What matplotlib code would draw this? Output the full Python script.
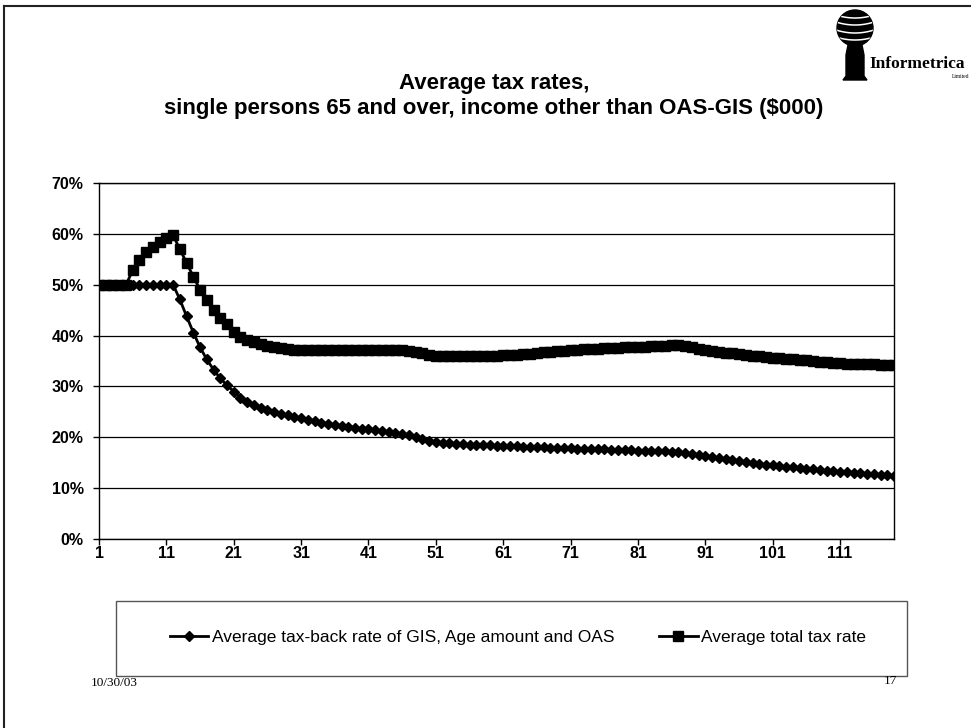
import numpy as np
import matplotlib
matplotlib.use('Agg')
import matplotlib.pyplot as plt
from matplotlib.patches import Circle, Rectangle, Polygon
from matplotlib.ticker import FuncFormatter

plt.rcParams['font.family'] = ['Liberation Sans', 'DejaVu Sans']

# income other than OAS-GIS ($000)
income = list(range(1, 120))

# Average tax-back rate of GIS, Age amount and OAS (%)
taxback = [
    50.0, 50.0, 50.0, 50.0, 50.0, 50.0, 50.0, 50.0, 50.0, 50.0,
    50.0, 50.0, 47.1, 43.8, 40.6, 37.7, 35.3, 33.3, 31.6, 30.2,
    29.0, 27.8, 26.9, 26.3, 25.8, 25.3, 24.9, 24.6, 24.3, 24.0,
    23.7, 23.4, 23.2, 22.9, 22.7, 22.5, 22.3, 22.1, 21.9, 21.7,
    21.6, 21.4, 21.2, 21.1, 20.9, 20.7, 20.4, 20.0, 19.6, 19.2,
    19.0, 18.9, 18.8, 18.7, 18.6, 18.5, 18.5, 18.4, 18.4, 18.3,
    18.3, 18.25, 18.2, 18.15, 18.1, 18.05, 18.0, 17.95, 17.9, 17.85,
    17.8, 17.75, 17.7, 17.65, 17.6, 17.6, 17.55, 17.5, 17.5, 17.45,
    17.4, 17.4, 17.35, 17.3, 17.3, 17.2, 17.1, 16.9, 16.7, 16.5,
    16.3, 16.1, 15.9, 15.7, 15.5, 15.3, 15.2, 15.0, 14.8, 14.6,
    14.5, 14.3, 14.2, 14.1, 13.9, 13.8, 13.7, 13.6, 13.4, 13.3,
    13.2, 13.1, 13.0, 12.9, 12.8, 12.7, 12.6, 12.5, 12.4,
]

# Average total tax rate (%)
total = [
    50.0, 50.0, 50.0, 50.0, 50.0, 52.8, 54.8, 56.4, 57.5, 58.4,
    59.1, 59.7, 57.0, 54.3, 51.6, 49.0, 46.9, 45.0, 43.4, 42.2,
    40.8, 39.7, 39.1, 38.7, 38.3, 38.0, 37.8, 37.5, 37.3, 37.2,
    37.1, 37.1, 37.1, 37.1, 37.1, 37.1, 37.1, 37.1, 37.1, 37.1,
    37.1, 37.1, 37.1, 37.1, 37.1, 37.1, 37.0, 36.8, 36.5, 36.2,
    36.0, 36.0, 36.0, 36.0, 36.0, 36.0, 36.0, 36.0, 36.0, 36.05,
    36.1, 36.1, 36.2, 36.3, 36.4, 36.6, 36.7, 36.8, 36.9, 37.0,
    37.1, 37.2, 37.3, 37.35, 37.4, 37.5, 37.55, 37.6, 37.7, 37.75,
    37.8, 37.85, 37.9, 38.0, 38.0, 38.1, 38.1, 37.9, 37.7, 37.4,
    37.2, 37.0, 36.8, 36.6, 36.5, 36.3, 36.1, 36.0, 35.9, 35.7,
    35.6, 35.5, 35.4, 35.3, 35.2, 35.1, 35.0, 34.9, 34.8, 34.7,
    34.6, 34.5, 34.5, 34.4, 34.4, 34.4, 34.3, 34.3, 34.3,
]

labels = ['Average tax-back rate of GIS, Age amount and OAS',
          'Average total tax rate']
title = 'Average tax rates,\nsingle persons 65 and over, income other than OAS-GIS ($000)'

W, H = 971, 728
fig = plt.figure(figsize=(W / 100, H / 100), dpi=100)

# page decorations drawn in pixel coordinates
deco = fig.add_axes([0, 0, 1, 1])
deco.set_xlim(0, W)
deco.set_ylim(H, 0)
deco.axis('off')
deco.plot([4, W], [6, 6], color='#222222', lw=1.5)
deco.plot([4, 4], [6, H], color='#222222', lw=1.5)
deco.add_patch(Rectangle((116, 601), 791, 75, fill=False, ec='#555555', lw=1))
deco.text(91, 683, '10/30/03', family='Liberation Serif', fontsize=9.5, va='center', ha='left')
deco.text(897, 681, '17', family='Liberation Serif', fontsize=9.5, va='center', ha='right')

# logo
globe = Circle((855, 28), 18, color='black')
deco.add_patch(globe)
for y0 in [15, 22, 30, 37]:
    t = np.linspace(-19, 19, 40)
    ln, = deco.plot(855 + t, y0 + 3 * (1 - (t / 19) ** 2), color='white', lw=1.1)
    ln.set_clip_path(globe)
deco.add_patch(Polygon([(848, 45), (862, 45), (864, 55), (864, 76), (867, 80),
                        (843, 80), (846, 76), (846, 55)], closed=True, color='black'))
deco.text(869, 64, 'Informetrica', family='Liberation Serif', fontweight='bold',
          fontsize=12.5, va='center', ha='left')
deco.text(969, 76, 'Limited', family='Liberation Serif', fontsize=4, va='center', ha='right')

fig.text(494 / W, 1 - 96 / H, title, ha='center', va='center', fontsize=16,
         fontweight='bold', linespacing=1.3)

ax = fig.add_axes([99 / W, 1 - 539 / H, (894 - 99) / W, (539 - 183) / H])
ax.plot(income, taxback, color='black', lw=2, marker='D', ms=5.5, label=labels[0])
ax.plot(income, total, color='black', lw=2, marker='s', ms=7.5, label=labels[1])
ax.set_xlim(1, 119)
ax.set_ylim(0, 70)
ax.set_xticks(income[::10])
ax.set_yticks(range(0, 71, 10))
ax.yaxis.set_major_formatter(FuncFormatter(lambda v, p: '%d%%' % v))
ax.grid(axis='y', color='black', lw=0.9)
ax.set_axisbelow(True)
for s in ax.spines.values():
    s.set_color('black')
    s.set_linewidth(1)
ax.tick_params(axis='y', direction='out', length=4, width=1, pad=7, labelsize=11.5)
ax.tick_params(axis='x', direction='out', length=4, width=1, pad=1, labelsize=11.5)
for lab in ax.get_xticklabels() + ax.get_yticklabels():
    lab.set_fontweight('bold')

fig.legend(loc='center', bbox_to_anchor=(518 / W, 1 - 637 / H), ncol=2, frameon=False,
           fontsize=12.5, handlelength=2.2, handletextpad=0.2, columnspacing=2.6)

fig.savefig('out.png', dpi=100)
